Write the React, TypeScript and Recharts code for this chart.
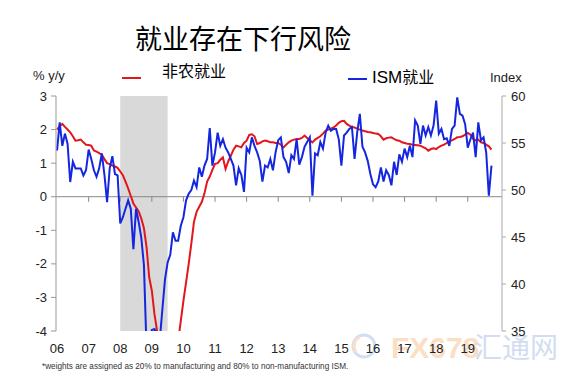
import React from 'react';
import { LineChart, Line, XAxis, YAxis, ReferenceArea, ReferenceLine } from 'recharts';

// monthly, Jan 2006 .. Oct 2019
const yearLabels = ['06', '07', '08', '09', '10', '11', '12', '13', '14', '15', '16', '17', '18', '19'];

// non-farm payrolls, % y/y (left axis)
const nfpYoY = [
  2.0, 2.1, 2.17, 2.08, 2.0, 1.92, 1.8, 1.67, 1.68, 1.7, 1.62, 1.55,
  1.54, 1.52, 1.38, 1.34, 1.3, 1.25, 1.12, 1.0, 0.97, 0.93, 0.9, 0.86,
  0.75, 0.64, 0.45, 0.25, 0.02, -0.2, -0.32, -0.44, -0.65, -0.94, -1.5, -2.4,
  -2.8, -3.5, -4.0, -4.3, -4.6, -4.9, -5.0, -5.0, -4.9, -4.7, -4.3, -3.7,
  -3.1, -2.55, -2.0, -1.4, -0.75, -0.45, -0.3, -0.15, 0.1, 0.45, 0.6, 0.8,
  0.98, 1.0, 1.1, 1.17, 0.83, 1.05, 1.22, 1.4, 1.52, 1.5, 1.47, 1.6,
  1.67, 1.84, 1.86, 1.8, 1.57, 1.6, 1.65, 1.67, 1.65, 1.62, 1.62, 1.6,
  1.6, 1.55, 1.47, 1.55, 1.62, 1.67, 1.7, 1.72, 1.72, 1.75, 1.82, 1.75,
  1.68, 1.62, 1.7, 1.75, 1.8, 1.88, 1.97, 2.0, 2.03, 2.06, 2.12, 2.2,
  2.25, 2.26, 2.17, 2.12, 2.08, 2.06, 2.03, 2.0, 1.97, 1.95, 1.93, 1.92,
  1.9, 1.88, 1.87, 1.8, 1.7, 1.74, 1.76, 1.77, 1.72, 1.68, 1.67, 1.62,
  1.6, 1.58, 1.57, 1.55, 1.54, 1.53, 1.52, 1.48, 1.44, 1.37, 1.42, 1.44,
  1.42, 1.48, 1.52, 1.55, 1.6, 1.65, 1.68, 1.72, 1.77, 1.78, 1.8, 1.85,
  1.9, 1.85, 1.72, 1.68, 1.7, 1.62, 1.6, 1.55, 1.5, 1.4,
];

// ISM employment, weighted index (right axis)
const ismEmployment = [
  54.2, 57.2, 54.7, 56.0, 54.9, 50.85, 53.0, 52.3, 52.3, 52.3, 51.55, 52.1,
  54.3, 53.3, 52.1, 51.4, 52.3, 53.9, 51.6, 48.7, 52.3, 53.6, 51.7, 51.55,
  46.45, 47.1, 48.0, 48.9, 48.0, 43.7, 48.0, 46.6, 44.9, 42.0, 33.0, 33.5,
  35.1, 35.2, 34.5, 34.0, 37.3, 40.5, 42.3, 43.1, 45.5, 44.6, 44.6, 46.2,
  47.1, 48.9, 49.6, 50.0, 51.0, 50.3, 52.4, 51.4, 52.6, 53.3, 56.6, 52.6,
  54.0, 56.1, 54.7, 55.4, 54.5, 54.0, 53.3, 52.6, 50.5, 52.3, 51.6, 49.8,
  54.5, 54.0, 55.6, 54.7, 54.0, 53.1, 50.9, 52.6, 52.4, 53.3, 52.1, 54.0,
  55.3, 55.6, 53.5, 53.0, 51.8, 53.7, 53.3, 55.4, 52.7, 53.5, 54.6, 55.1,
  55.6, 49.4, 53.9, 53.7, 55.1, 54.4, 56.1, 56.85, 56.3, 56.5, 56.5, 55.4,
  52.6, 55.8, 56.1, 56.5, 56.7, 53.3, 56.1, 58.1, 54.6, 54.0, 53.1, 51.7,
  50.6, 50.3, 50.9, 52.4, 50.9, 52.1, 51.6, 50.5, 53.0, 51.6, 53.8, 53.0,
  54.4, 53.5, 54.7, 53.5, 57.4, 56.85, 54.9, 56.85, 55.8, 56.7, 55.8, 56.85,
  59.5, 56.0, 56.5, 55.4, 55.5, 54.7, 56.5, 56.85, 59.85, 58.1, 57.9, 57.0,
  54.5, 55.4, 56.1, 53.5, 57.2, 55.3, 55.6, 54.0, 49.4, 52.6,
];

const leftTicks = [3, 2, 1, 0, -1, -2, -3, -4];
const rightTicks = [60, 55, 50, 45, 40, 35];
const recessionMonths = [24, 42];

const data = nfpYoY.map((v, i) => ({ m: i, nfp: v, ism: ismEmployment[i] }));
const yearTicks = yearLabels.map((_, i) => i * 12);

const latin = '"Liberation Sans", Arial, sans-serif';
const cjk = '"Noto Sans CJK SC", "Liberation Sans", sans-serif';
const tickStyle = { fontSize: 13, fill: '#222', fontFamily: latin };

export default function App() {
  return (
    <div style={{ position: 'absolute', left: 0, top: 0, width: 572, height: 382, background: '#fff' }}>
      {/* watermark sits behind the chart */}
      <svg width={572} height={382} style={{ position: 'absolute', left: 0, top: 0 }}>
        <g opacity={0.35}>
          <circle cx={364} cy={346} r={11} fill="none" stroke="#7fa3d9" strokeWidth={3} />
          <path d="M356 352 A10 10 0 0 1 360 337" fill="none" stroke="#f3a070" strokeWidth={3} />
          <text x={391} y={358} fontSize={30} fontWeight="bold" fontFamily={latin} fill="#f6a25a">
            FX678
          </text>
          <text x={474} y={358} fontSize={28} fontFamily={cjk} fill="#7f9fd8">
            汇通网
          </text>
        </g>
      </svg>
      <div style={{ position: 'absolute', left: 0, top: 0 }}>
        <LineChart
          width={572}
          height={382}
          data={data}
          margin={{ top: 96, right: 0, bottom: 21, left: 0 }}
        >
          <XAxis
            dataKey="m"
            type="number"
            domain={[-0.4, 169]}
            ticks={yearTicks}
            tickFormatter={(v) => yearLabels[Math.round(v / 12)]}
            axisLine={false}
            tickLine={false}
            tickMargin={7}
            height={30}
            tick={tickStyle}
            interval={0}
          />
          <YAxis
            yAxisId="left"
            orientation="left"
            width={56}
            domain={[-4, 3]}
            ticks={leftTicks}
            allowDataOverflow
            stroke="#999"
            tickSize={5}
            tickMargin={4}
            tick={tickStyle}
            interval={0}
          />
          <YAxis
            yAxisId="right"
            orientation="right"
            width={70}
            domain={[35, 60]}
            ticks={rightTicks}
            allowDataOverflow
            stroke="#aaa"
            tickSize={4}
            tickMargin={5}
            tick={tickStyle}
            interval={0}
          />
          <ReferenceArea
            yAxisId="left"
            x1={recessionMonths[0]}
            x2={recessionMonths[1]}
            y1={-4}
            y2={3}
            fill="#d9d9d9"
            fillOpacity={1}
            stroke="none"
          />
          <ReferenceLine yAxisId="left" y={0} stroke="#888" strokeWidth={1} />
          {yearTicks.slice(1).map((t) => (
            <ReferenceLine
              key={t}
              yAxisId="left"
              segment={[{ x: t, y: 0 }, { x: t, y: -0.15 }]}
              stroke="#888"
            />
          ))}
          <Line
            yAxisId="left"
            dataKey="nfp"
            stroke="#e3161d"
            strokeWidth={2}
            dot={false}
            isAnimationActive={false}
          />
          <Line
            yAxisId="right"
            dataKey="ism"
            stroke="#1526e0"
            strokeWidth={2}
            dot={false}
            isAnimationActive={false}
          />
        </LineChart>
      </div>
      <svg
        width={572}
        height={382}
        style={{ position: 'absolute', left: 0, top: 0, pointerEvents: 'none' }}
      >
        <text x={135} y={48.5} fontSize={27} fontFamily={cjk} fill="#000">
          就业存在下行风险
        </text>
        <line x1={122} y1={78} x2={141} y2={78} stroke="#e3161d" strokeWidth={2} />
        <text x={162} y={77} fontSize={16} fontFamily={cjk} fill="#000">
          非农就业
        </text>
        <line x1={348} y1={79} x2={367} y2={79} stroke="#1526e0" strokeWidth={2} />
        <text x={372} y={83} fontSize={16} fill="#000">
          <tspan fontFamily={latin} fontSize={17}>ISM</tspan>
          <tspan fontFamily={cjk}>就业</tspan>
        </text>
        <text x={33} y={80} fontSize={13} fontFamily={latin} fill="#222">
          % y/y
        </text>
        <text x={490} y={82} fontSize={13} fontFamily={latin} fill="#222">
          Index
        </text>
        <text x={42} y={369} fontSize={8.2} fontFamily={latin} fill="#333">
          *weights are assigned as 20% to manufacturing and 80% to non-manufacturing ISM.
        </text>
      </svg>
    </div>
  );
}
